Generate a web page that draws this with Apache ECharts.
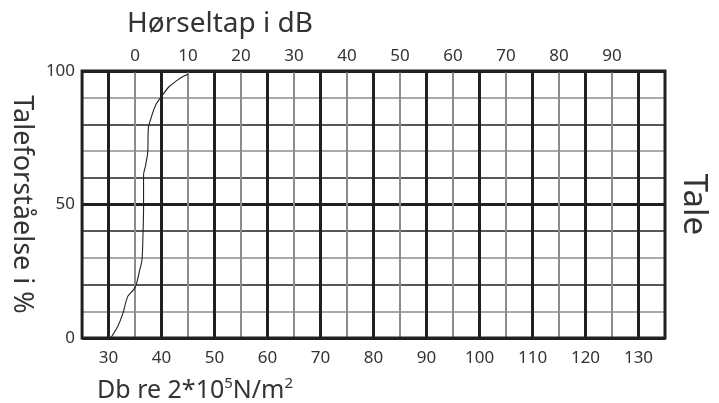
<!DOCTYPE html>
<html>
<head>
<meta charset="utf-8">
<script src="https://cdn.jsdelivr.net/npm/echarts@6/dist/echarts.min.js"></script>
<style>
html,body{margin:0;padding:0;background:#fff;}
#chart{width:719px;height:403px;}
</style>
</head>
<body>
<div id="chart"></div>
<script>
// Speech curve (x: dB re 2*10^-5 N/m^2, y: speech understanding %)
const speechDb  = [30.4, 31.7, 32.7, 33.6, 34.7, 35.2, 35.8, 36.3, 36.5, 36.6, 36.6, 37.0, 37.4, 37.5, 38.0, 38.9, 40.2, 41.4, 43.0, 44.3, 45.0];
const speechPct = [0, 4.2, 9.2, 15.5, 18, 19.9, 24.8, 29.2, 39.2, 48, 61, 64.8, 69.8, 78.5, 82.3, 87.3, 91, 94.1, 96.6, 98.2, 98.8];

// Axis ranges and tick labels
const bottomRange = [25, 135];
const bottomTicks = [30, 40, 50, 60, 70, 80, 90, 100, 110, 120, 130];
const topRange = [-10, 100];
const topTicks = [0, 10, 20, 30, 40, 50, 60, 70, 80, 90];
const yRange = [0, 100];
const yTicks = [0, 50, 100];

const FONT = 'Noto Sans';
const TXT = '#333';
const DARK = '#231f20';
const GRAY = '#8c8c8c';

const chart = echarts.init(document.getElementById('chart'), null, {renderer: 'canvas'});

const curve = speechDb.map((x, i) => [x, speechPct[i]]);

chart.setOption({
  backgroundColor: '#fff',
  animation: false,
  title: [
    {
      text: 'Hørseltap i dB',
      left: 127, top: 10, padding: 0,
      textStyle: {fontFamily: FONT, fontSize: 28, fontWeight: 'normal', color: TXT}
    },
    {
      text: 'Db re 2*10{sup|5}N/m{sup|2}',
      left: 97, top: 376, padding: 0,
      textStyle: {
        fontFamily: FONT, fontSize: 25, fontWeight: 'normal', color: TXT, lineHeight: 30,
        rich: {
          sup: {fontFamily: FONT, fontSize: 15, color: TXT, verticalAlign: 'top', lineHeight: 30, padding: [0, 0, 12, 0]}
        }
      }
    }
  ],
  grid: {
    left: 79, right: 54, top: 71, bottom: 65, z: 3,
    show: true, borderColor: DARK, borderWidth: 3, backgroundColor: 'transparent'
  },
  xAxis: [
    {
      type: 'value', position: 'bottom', min: bottomRange[0], max: bottomRange[1], interval: 5,
      axisLine: {show: false}, axisTick: {show: false},
      axisLabel: {
        color: TXT, fontFamily: FONT, fontSize: 17, margin: 12,
        formatter: v => bottomTicks.includes(v) ? String(v) : ''
      },
      splitLine: {show: true, lineStyle: {color: ['transparent', DARK], width: 3}}
    },
    {
      type: 'value', position: 'bottom', min: bottomRange[0], max: bottomRange[1], interval: 5,
      axisLine: {show: false}, axisTick: {show: false}, axisLabel: {show: false},
      splitLine: {show: true, lineStyle: {color: [GRAY, 'transparent'], width: 2}}
    },
    {
      type: 'value', position: 'top', min: topRange[0], max: topRange[1], interval: 10,
      axisLine: {show: false}, axisTick: {show: false},
      axisLabel: {
        color: TXT, fontFamily: FONT, fontSize: 17, margin: 6,
        formatter: v => topTicks.includes(v) ? String(v) : ''
      },
      splitLine: {show: false}
    }
  ],
  yAxis: [
    {
      type: 'value', position: 'left', min: yRange[0], max: yRange[1], interval: 10,
      axisLine: {show: false}, axisTick: {show: false},
      axisLabel: {
        color: TXT, fontFamily: FONT, fontSize: 17, margin: 7,
        formatter: v => yTicks.includes(v) ? String(v) : ''
      },
      splitLine: {show: true, lineStyle: {color: [DARK, GRAY], width: 1.6}},
      name: 'Taleforståelse i %', nameLocation: 'middle', nameRotate: -90, nameGap: 42,
      nameTextStyle: {color: TXT, fontFamily: FONT, fontSize: 27}
    },
    {
      type: 'value', position: 'right', min: yRange[0], max: yRange[1], interval: 50,
      axisLine: {show: false}, axisTick: {show: false}, axisLabel: {show: false},
      splitLine: {show: true, lineStyle: {color: DARK, width: 3}},
      name: 'Tale', nameLocation: 'middle', nameRotate: -90, nameGap: 12,
      nameTextStyle: {color: TXT, fontFamily: FONT, fontSize: 33}
    }
  ],
  series: [
    {
      type: 'line', xAxisIndex: 0, yAxisIndex: 0,
      data: curve, showSymbol: false, smooth: 0.3,
      lineStyle: {color: '#222', width: 1.1}, z: 5
    }
  ]
});
</script>
</body>
</html>
